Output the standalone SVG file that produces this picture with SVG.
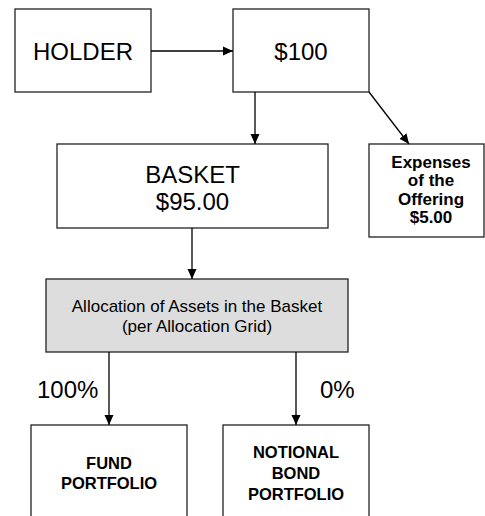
<svg xmlns="http://www.w3.org/2000/svg" width="485" height="516" viewBox="0 0 485 516">
<style>
.box{fill:#ffffff;stroke:#222222;stroke-width:1.3}
.grey{fill:#dddddd;stroke:#222222;stroke-width:1.3}
.t{font-family:"Liberation Sans",Arial,sans-serif;fill:#000000;text-anchor:middle}
.big{font-size:24px}
.mid{font-size:17px}
.sm{font-size:16.5px}
.b{font-weight:bold}
.conn line{stroke:#000000;stroke-width:1.3;fill:none}
</style>
<defs>
<marker id="ah" markerWidth="10" markerHeight="10" refX="10" refY="4.5" orient="auto" markerUnits="userSpaceOnUse" viewBox="0 0 10 9">
<path d="M0,0 L10,4.5 L0,9 Z" fill="#000000"/>
</marker>
</defs>
<rect width="485" height="516" fill="#ffffff"/>
<g id="holder">
<rect class="box" x="15" y="9" width="136" height="83"/>
<text class="t big" x="83" y="59.5">HOLDER</text>
</g>
<g id="n100">
<rect class="box" x="233" y="9" width="136" height="83"/>
<text class="t big" x="301" y="59.5">$100</text>
</g>
<g id="basket">
<rect class="box" x="57" y="144" width="271" height="84"/>
<text class="t big" x="192.5" y="182.5">BASKET</text>
<text class="t big" x="192.5" y="209.5">$95.00</text>
</g>
<g id="expenses">
<rect class="box" x="369" y="144" width="115" height="93"/>
<text class="t mid b" x="431" y="167.5">Expenses</text>
<text class="t mid b" x="431" y="186">of the</text>
<text class="t mid b" x="431" y="204.5">Offering</text>
<text class="t mid b" x="431" y="223">$5.00</text>
</g>
<g id="allocation">
<rect class="grey" x="46" y="279" width="302" height="73"/>
<text class="t mid" x="197" y="311.5">Allocation of Assets in the Basket</text>
<text class="t mid" x="197" y="331.5">(per Allocation Grid)</text>
</g>
<g id="fund">
<rect class="box" x="31" y="425" width="156" height="110"/>
<text class="t sm b" x="109" y="468.5">FUND</text>
<text class="t sm b" x="109" y="488.5">PORTFOLIO</text>
</g>
<g id="bond">
<rect class="box" x="223" y="425" width="146" height="110"/>
<text class="t sm b" x="296" y="458">NOTIONAL</text>
<text class="t sm b" x="296" y="479">BOND</text>
<text class="t sm b" x="296" y="500">PORTFOLIO</text>
</g>
<g id="connectors" class="conn">
<line x1="151" y1="51" x2="233" y2="51" marker-end="url(#ah)"/>
<line x1="255" y1="92" x2="255" y2="144" marker-end="url(#ah)"/>
<line x1="369" y1="92" x2="409" y2="144" marker-end="url(#ah)"/>
<line x1="192" y1="228" x2="192" y2="279" marker-end="url(#ah)"/>
<line x1="109" y1="352" x2="109" y2="425" marker-end="url(#ah)"/>
<line x1="296" y1="352" x2="296" y2="425" marker-end="url(#ah)"/>
<text class="t big" style="text-anchor:start" x="37" y="397.5">100%</text>
<text class="t big" style="text-anchor:start" x="320" y="397.5">0%</text>
</g>
</svg>
